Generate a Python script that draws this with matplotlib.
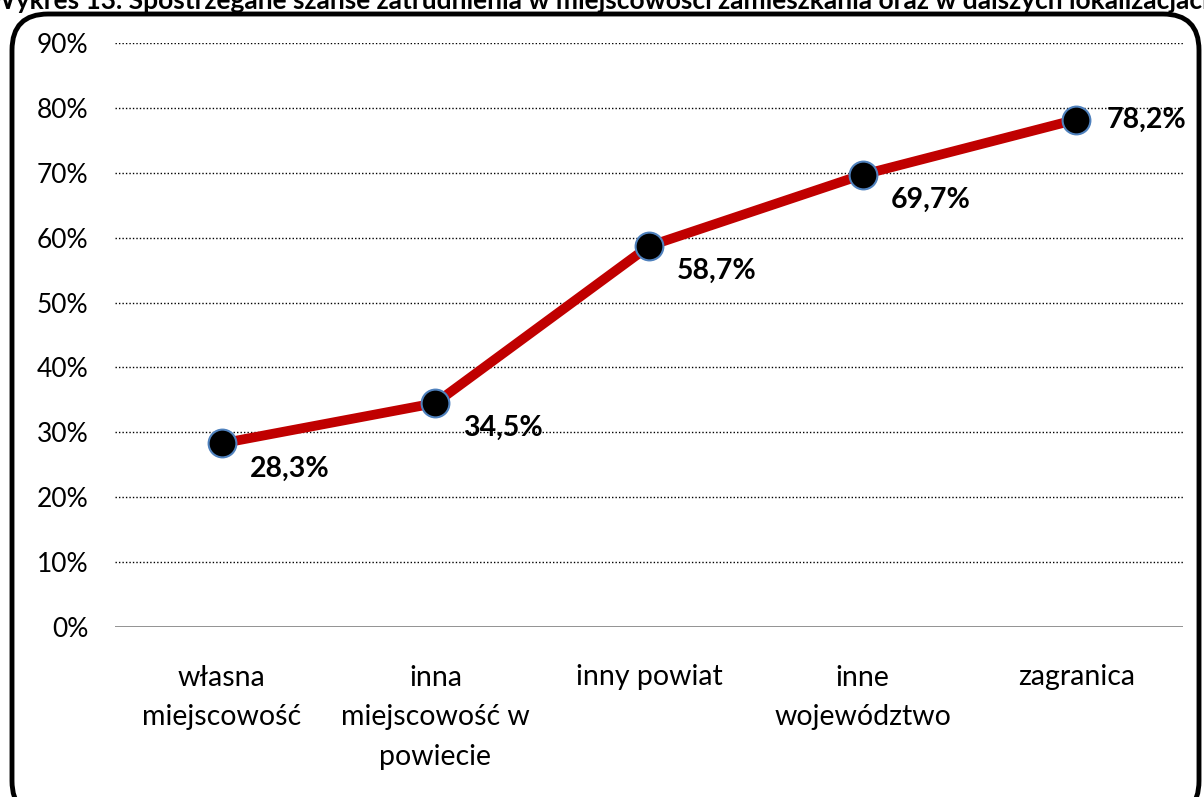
import numpy as np
import matplotlib
matplotlib.use("Agg")
import matplotlib.pyplot as plt
from matplotlib.patches import FancyBboxPatch

plt.rcParams["font.family"] = ["Lato", "DejaVu Sans"]

# dane
categories = ["własna\nmiejscowość", "inna\nmiejscowość w\npowiecie", "inny powiat",
              "inne\nwojewództwo", "zagranica"]
values = [28.3, 34.5, 58.7, 69.7, 78.2]
labels = ["28,3%", "34,5%", "58,7%", "69,7%", "78,2%"]
yticks = [0, 10, 20, 30, 40, 50, 60, 70, 80, 90]
title = ("Wykres 13. Spostrzegane szanse zatrudnienia w miejscowości "
         "zamieszkania oraz w dalszych lokalizacjach")

fig = plt.figure(figsize=(12.04, 7.97), dpi=100)

# ramka z zaokrąglonymi rogami
W, H = 1204, 797
frame = FancyBboxPatch((12 / W, -20 / H), 1187 / W, (H - 14 + 20) / H,
                       boxstyle="round,pad=0,rounding_size=0.03",
                       transform=fig.transFigure, fill=False,
                       edgecolor="black", linewidth=3.5, clip_on=False,
                       mutation_aspect=W / H)
fig.patches.append(frame)

# tytuł ucięty u góry, jak w oryginale
fig.text(0.5, 1 - 9 / H, title, ha="center", va="baseline",
         fontsize=19, fontweight="bold")

ax = fig.add_axes([115 / W, 1 - 627 / H, 1068 / W, (627 - 43) / H])
x = np.arange(len(categories))

ax.plot(x, values, color="#C00000", linewidth=7, solid_capstyle="round",
        zorder=3)
ax.plot(x, values, linestyle="none", marker="o", markersize=20,
        markerfacecolor="black", markeredgecolor="#4F81BD",
        markeredgewidth=1.5, zorder=4)

for i, (v, lab) in enumerate(zip(values, labels)):
    if i == len(values) - 1:
        ax.annotate(lab, (i, v), xytext=(22, 0), textcoords="offset points",
                    ha="left", va="center", fontsize=20.5, fontweight="bold")
    else:
        ax.annotate(lab, (i, v), xytext=(20, -18), textcoords="offset points",
                    ha="left", va="center", fontsize=20.5, fontweight="bold")

ax.set_xlim(-0.5, len(categories) - 0.5)
ax.set_ylim(0, 90)
ax.set_yticks(yticks)
ax.set_yticklabels([f"{t}%" for t in yticks], fontsize=19)
ax.set_xticks(x)
ax.set_xticklabels(categories, fontsize=20.5, linespacing=1.65)
ax.tick_params(axis="both", length=0)
ax.tick_params(axis="y", pad=19)
ax.tick_params(axis="x", pad=27)

for t in yticks[1:]:
    ax.axhline(t, color="black", linewidth=1, linestyle=(0, (1, 1.5)), zorder=1)
ax.axhline(0, color="#808080", linewidth=1.2, zorder=1)

for s in ax.spines.values():
    s.set_visible(False)

fig.savefig("out.png", dpi=100)
